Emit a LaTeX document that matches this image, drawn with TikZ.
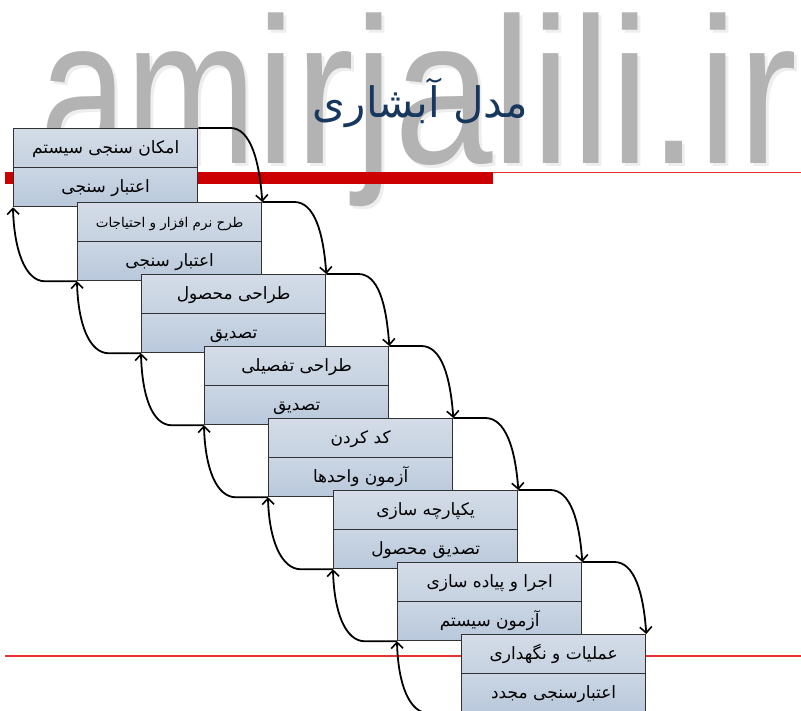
\documentclass[tikz,border=0pt]{standalone}
\usepackage{fontspec}
\usetikzlibrary{arrows.meta}
\TeXXeTstate=1
\setmainfont{Liberation Sans}
\newfontfamily\arabicfont[Script=Arabic]{DejaVu Sans}
\newcommand{\fa}[1]{\arabicfont\beginR #1\endR}
\newcommand{\sitename}{\fontsize{208}{208}\selectfont
  \scalebox{0.851}[1]{\scalebox{0.88}[1]{am}irjalili.ir}}

\definecolor{wmgray}{RGB}{179,179,179}
\definecolor{titleblue}{RGB}{23,55,94}
\definecolor{barred}{RGB}{204,0,0}
\definecolor{linered}{RGB}{228,52,52}
\definecolor{edge}{RGB}{50,50,50}
\definecolor{cellA}{RGB}{211,220,231}
\definecolor{cellB}{RGB}{198,210,225}
\definecolor{cellC}{RGB}{203,214,228}
\definecolor{cellD}{RGB}{184,200,219}

\tikzset{
  cell/.style={rectangle, draw=edge, line width=1.3pt, minimum width=184pt,
    minimum height=39pt, inner sep=0pt, anchor=north west,
    text height=13pt, text depth=2pt,
    font=\arabicfont\fontsize{17}{20}\selectfont},
  upper/.style={cell, top color=cellA, bottom color=cellB},
  lower/.style={cell, top color=cellC, bottom color=cellD},
  arr/.style={line width=1.8pt, black,
    -{Straight Barb[length=6pt,width=12pt,line width=1.6pt]}},
}

\begin{document}
\begin{tikzpicture}[x=1pt,y=-1pt]
\useasboundingbox (0,0) rectangle (801,710);
\clip (0,0) rectangle (801,710);

% site name in the background, with a soft shadow
\node[anchor=base west, inner sep=0pt, text=wmgray!45, opacity=0.5]
  (wmshadow) at (43,166) {\sitename};
\node[anchor=base west, inner sep=0pt, text=wmgray]
  (wm) at (40,163) {\sitename};

% header rules
\fill[barred] (5,172) rectangle (493,184);
\draw[linered, line width=1pt] (493,172.5) -- (801,172.5);
\draw[linered, line width=1.3pt] (5,656) -- (801,656);

% title
\node[anchor=base, inner sep=0pt, text=titleblue,
  font=\arabicfont\fontsize{42}{48}\selectfont]
  (title) at (420.5,117) {\fa{مدل آبشاری}};

% the eight phases
\node[upper] (p1a) at (13,128) {\fa{امکان سنجی سیستم}};
\node[lower] (p1b) at (13,167) {\fa{اعتبار سنجی}};

\node[upper, font=\arabicfont\fontsize{13.5}{16}\selectfont] (p2a) at (77,202) {\fa{طرح نرم افزار و احتیاجات}};
\node[lower] (p2b) at (77,241) {\fa{اعتبار سنجی}};

\node[upper] (p3a) at (141,274) {\fa{طراحی محصول}};
\node[lower] (p3b) at (141,313) {\fa{تصدیق}};

\node[upper] (p4a) at (204,346) {\fa{طراحی تفصیلی}};
\node[lower] (p4b) at (204,385) {\fa{تصدیق}};

\node[upper] (p5a) at (268,418) {\fa{کد کردن}};
\node[lower] (p5b) at (268,457) {\fa{آزمون واحدها}};

\node[upper] (p6a) at (333,490) {\fa{یکپارچه سازی}};
\node[lower] (p6b) at (333,529) {\fa{تصدیق محصول}};

\node[upper] (p7a) at (397,562) {\fa{اجرا و پیاده سازی}};
\node[lower] (p7b) at (397,601) {\fa{آزمون سیستم}};

\node[upper] (p8a) at (461,634) {\fa{عملیات و نگهداری}};
\node[lower] (p8b) at (461,673) {\fa{اعتبارسنجی مجدد}};

% forward flow: top right corner to the next top right corner
\foreach \i/\j in {1/2,2/3,3/4,4/5,5/6,6/7,7/8}{
  \draw[arr] (p\i a.north east) -- ++(32,0)
    .. controls +(20,0) and +(-3,-42) .. (p\j a.north east);
}
% feedback: bottom left corner back up to the previous bottom left corner
\foreach \i/\j in {1/2,2/3,3/4,4/5,5/6,6/7,7/8}{
  \draw[arr] (p\j b.south west) -- ++(-32,0)
    .. controls +(-20,0) and +(1,42) .. (p\i b.south west);
}
\end{tikzpicture}
\end{document}
